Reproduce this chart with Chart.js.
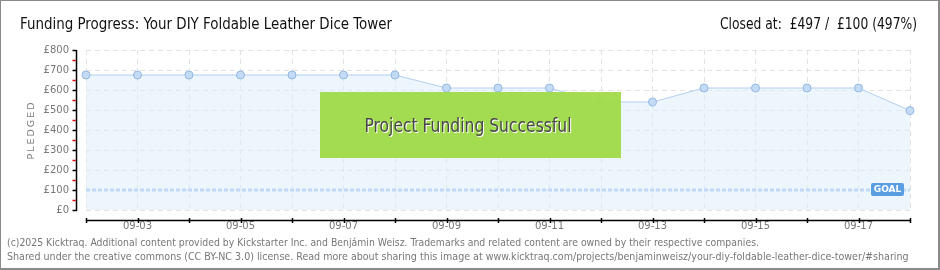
<!DOCTYPE html>
<html>
<head>
<meta charset="utf-8">
<script src="https://cdn.jsdelivr.net/npm/chart.js@4/dist/chart.umd.min.js"></script>
<style>
  html, body { margin: 0; padding: 0; background: #fff; }
  canvas { display: block; }
</style>
</head>
<body>
<canvas id="fundingChart" width="940" height="270"></canvas>
<script>
// data
const days = ['09-02', '09-03', '09-04', '09-05', '09-06', '09-07', '09-08', '09-09', '09-10',
              '09-11', '09-12', '09-13', '09-14', '09-15', '09-16', '09-17', '09-18'];
const pledged = [675, 675, 675, 675, 675, 675, 675, 610, 610, 610, 540, 540, 610, 610, 610, 610, 497];
const goalValue = 100;
const goalLine = days.map(() => goalValue);
const yTicks = [0, 100, 200, 300, 400, 500, 600, 700, 800];

const titleText = 'Funding Progress: Your DIY Foldable Leather Dice Tower';
const closedText = 'Closed at:  £497 /  £100 (497%)';
const footerLines = [
    '(c)2025 Kicktraq. Additional content provided by Kickstarter Inc. and Benjámin Weisz. Trademarks and related content are owned by their respective companies.',
    'Shared under the creative commons (CC BY-NC 3.0) license. Read more about sharing this image at www.kicktraq.com/projects/benjaminweisz/your-diy-foldable-leather-dice-tower/#sharing'
];

const COND = '"DejaVu Sans Condensed", "DejaVu Sans", sans-serif';

// extra drawing: frame, title, axes lines, success box, goal tag
const decorPlugin = {
    id: 'decor',
    beforeDraw(chart) {
        const ctx = chart.ctx;
        ctx.save();
        ctx.fillStyle = '#fff';
        ctx.fillRect(0, 0, chart.width, chart.height);
        ctx.restore();
    },
    afterDraw(chart) {
        const ctx = chart.ctx;
        const area = chart.chartArea;
        const x = chart.scales.x;
        const y = chart.scales.y;
        ctx.save();

        // frame
        ctx.strokeStyle = '#8a8a8a';
        ctx.lineWidth = 2;
        ctx.strokeRect(0, 0, 939, 269);

        // title + closed text (squeezed, the original font is narrow)
        ctx.fillStyle = '#111';
        ctx.font = '16.5px ' + COND;
        ctx.textBaseline = 'alphabetic';
        ctx.textAlign = 'left';
        ctx.fillText(titleText, 20, 29, 372);
        ctx.textAlign = 'right';
        ctx.fillText(closedText, 917, 29, 197);

        // footer
        ctx.fillStyle = '#777';
        ctx.font = '10.6px ' + COND;
        ctx.textAlign = 'left';
        ctx.fillText(footerLines[0], 7, 246, 752);
        ctx.fillText(footerLines[1], 7, 260, 905);

        // y axis line with ticks (offset left of plot)
        const axX = Math.round(area.left - 10) + 0.5;
        ctx.strokeStyle = '#000';
        ctx.lineWidth = 1.5;
        ctx.beginPath();
        ctx.moveTo(axX, y.getPixelForValue(800));
        ctx.lineTo(axX, y.getPixelForValue(0) + 1);
        ctx.stroke();
        yTicks.forEach(v => {
            const py = Math.round(y.getPixelForValue(v)) + 0.5;
            ctx.strokeStyle = '#000';
            ctx.beginPath();
            ctx.moveTo(axX - 4, py);
            ctx.lineTo(axX, py);
            ctx.stroke();
            if (v < 800) {
                const pm = Math.round(y.getPixelForValue(v + 50)) + 0.5;
                ctx.strokeStyle = '#e00000';
                ctx.beginPath();
                ctx.moveTo(axX - 4, pm);
                ctx.lineTo(axX - 0.8, pm);
                ctx.stroke();
            }
        });

        // x axis line with ticks (offset below plot)
        const axY = Math.round(area.bottom + 10) + 0.5;
        ctx.strokeStyle = '#000';
        ctx.beginPath();
        ctx.moveTo(area.left, axY);
        ctx.lineTo(area.right, axY);
        ctx.stroke();
        days.forEach((d, i) => {
            const px = Math.round(x.getPixelForValue(i)) + 0.5;
            ctx.beginPath();
            ctx.moveTo(px, axY - 2.5);
            ctx.lineTo(px, axY + 2.5);
            ctx.stroke();
        });

        // PLEDGED label
        ctx.save();
        ctx.translate(32, (area.top + area.bottom) / 2);
        ctx.rotate(-Math.PI / 2);
        ctx.fillStyle = '#777';
        ctx.font = '9.5px "DejaVu Sans", sans-serif';
        ctx.textAlign = 'center';
        ctx.textBaseline = 'middle';
        ctx.letterSpacing = '2px';
        ctx.fillText('PLEDGED', 0, 0);
        ctx.restore();

        // GOAL tag
        const gy = y.getPixelForValue(goalValue);
        ctx.fillStyle = '#5a9de0';
        ctx.beginPath();
        ctx.roundRect(871, gy - 7, 33, 13, 2);
        ctx.fill();
        ctx.fillStyle = '#fff';
        ctx.font = 'bold 9px "DejaVu Sans", sans-serif';
        ctx.textAlign = 'center';
        ctx.textBaseline = 'middle';
        ctx.fillText('GOAL', 887.5, gy);

        // success box
        ctx.fillStyle = 'rgba(160, 218, 72, 0.95)';
        ctx.fillRect(320, 92, 301, 66);
        ctx.font = '19px ' + COND;
        ctx.textAlign = 'center';
        ctx.textBaseline = 'middle';
        ctx.fillStyle = '#fff';
        ctx.fillText('Project Funding Successful', 469, 128, 207);
        ctx.fillStyle = '#484848';
        ctx.fillText('Project Funding Successful', 468, 127, 207);

        ctx.restore();
    }
};

new Chart(document.getElementById('fundingChart'), {
    type: 'line',
    data: {
        labels: days,
        datasets: [
            {
                label: 'Pledged',
                data: pledged,
                borderColor: '#b3d0f1',
                borderWidth: 1,
                backgroundColor: 'rgba(222, 236, 251, 0.55)',
                fill: 'origin',
                tension: 0,
                pointRadius: 4,
                pointBackgroundColor: '#c4dbf5',
                pointBorderColor: '#93b8e2',
                pointBorderWidth: 1,
                order: 1
            },
            {
                label: 'Goal',
                data: goalLine,
                borderColor: '#9cc2ea',
                borderWidth: 3,
                borderDash: [4, 2],
                pointRadius: 0,
                fill: false,
                order: 2
            }
        ]
    },
    options: {
        responsive: false,
        animation: false,
        events: [],
        layout: { padding: { left: 0, top: 50, right: 30, bottom: 0 } },
        plugins: {
            legend: { display: false },
            tooltip: { enabled: false }
        },
        scales: {
            x: {
                offset: false,
                afterFit: s => { s.height = 60; },
                grid: { color: '#e2e2e2', drawTicks: false },
                border: { display: false, dash: [5, 4] },
                ticks: {
                    autoSkip: false,
                    maxRotation: 0,
                    padding: 10,
                    color: '#777',
                    font: { size: 10, family: '"DejaVu Sans", sans-serif' },
                    callback: (v, i) => (i % 2 === 1 ? days[i] : '')
                }
            },
            y: {
                min: 0,
                max: 800,
                afterFit: s => { s.width = 86; },
                afterBuildTicks: s => { s.ticks = yTicks.map(v => ({ value: v })); },
                grid: { color: '#e2e2e2', drawTicks: false },
                border: { display: false, dash: [5, 4] },
                ticks: {
                    padding: 17,
                    color: '#777',
                    font: { size: 10, family: '"DejaVu Sans", sans-serif' },
                    callback: v => '£' + v
                }
            }
        }
    },
    plugins: [decorPlugin]
});
</script>
</body>
</html>
